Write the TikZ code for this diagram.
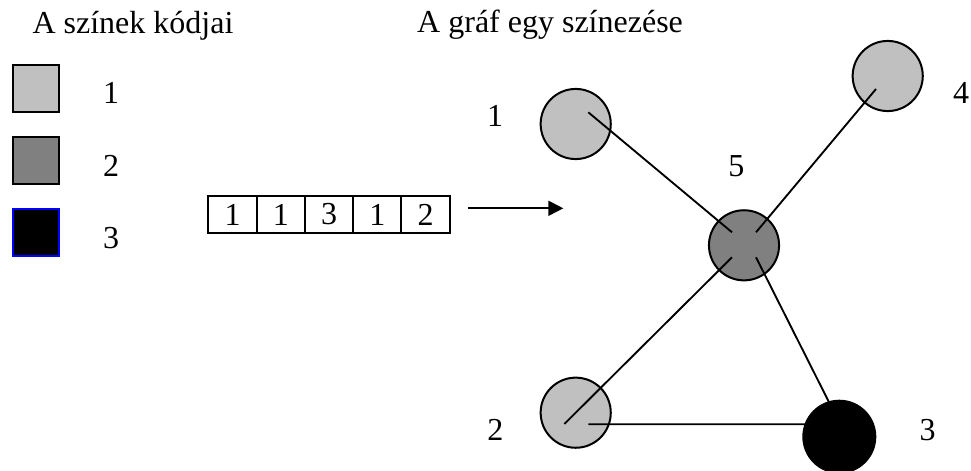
\documentclass[tikz,border=0pt]{standalone}
\usepackage{fontspec}
\setmainfont{Liberation Serif}
\usetikzlibrary{arrows.meta,positioning}
\definecolor{KodLight}{RGB}{192,192,192}
\definecolor{KodDark}{RGB}{128,128,128}
\definecolor{KodBlue}{RGB}{0,0,255}
\pgfdeclarelayer{front}
\pgfsetlayers{main,front}
\tikzset{
  kodbox/.style={rectangle, draw=black, line width=0.75pt, minimum size=17.6pt, inner sep=0pt},
  cell/.style={rectangle, draw=black, line width=0.75pt, minimum width=18.1pt,
    minimum height=13.9pt, inner sep=0pt, outer sep=0pt},
  vertex/.style={circle, draw=black, line width=0.75pt, minimum size=26.3pt, inner sep=0pt},
  edge/.style={line width=0.7pt, draw=black},
  arrow/.style={-{Triangle[length=5.6pt,width=5.6pt]}, line width=0.7pt, draw=black}
}
\begin{document}
\begin{tikzpicture}[x=0.375pt, y=-0.375pt, node distance=8.7pt,
    every node/.style={font=\fontsize{12pt}{14pt}\selectfont}]
  \useasboundingbox (0,0) rectangle (971,470);
  % titles
  \node[anchor=base west, inner sep=0pt] (tkod) at (32,34) {A színek kódjai};
  \node[anchor=base west, inner sep=0pt] (tgraf) at (416.7,33) {A gráf egy színezése};
  % colour codes
  \node[kodbox, fill=KodLight] (k1) at (36,88.3) {};
  \node[kodbox, fill=KodDark, below=of k1] (k2) {};
  \node[kodbox, fill=black, draw=KodBlue, below=of k2] (k3) {};
  \node (lk1) at (111,92.5) {1};
  \node (lk2) at (111,166) {2};
  \node (lk3) at (111,238) {3};
  % colouring array
  \node[cell] (c1) at (232.5,214.5) {1};
  \node[cell, right=0pt of c1] (c2) {1};
  \node[cell, right=0pt of c2] (c3) {3};
  \node[cell, right=0pt of c3] (c4) {1};
  \node[cell, right=0pt of c4] (c5) {2};
  \coordinate (tol) at (467.7,208.3);
  \coordinate (pfeil) at (563.3,208.3);
  \draw[arrow] (tol) -- (pfeil);
  % graph
  \node[vertex, fill=KodLight] (n1) at (575.7,124) {};
  \node[vertex, fill=KodLight] (n2) at (575.7,412.7) {};
  \node[vertex, fill=KodLight] (n4) at (887.7,76) {};
  \node[vertex, fill=KodDark] (n5) at (744,245.3) {};
  \begin{pgfonlayer}{front}
    \node[vertex, fill=black, minimum size=27pt] (n3) at (839.3,436.7) {};
  \end{pgfonlayer}
  \draw[edge] ([shift={(12.6,-11.7)}]n1.center) -- ([shift={(-12,-13)}]n5.center);
  \draw[edge] ([shift={(12,-13)}]n5.center) -- ([shift={(-11.7,13)}]n4.center);
  \draw[edge] ([shift={(-12,12)}]n5.center) -- ([shift={(-11.4,11.3)}]n2.center);
  \draw[edge] ([shift={(12,12)}]n5.center) -- ([shift={(-2,-18)}]n3.center);
  \draw[edge] ([shift={(12.6,11.6)}]n2.center) -- ([shift={(0,-12.4)}]n3.center);
  \node (l1) at (495,116) {1};
  \node (l2) at (495.3,430) {2};
  \node (l3) at (927.7,430) {3};
  \node (l4) at (961,92.7) {4};
  \node (l5) at (736.3,166.3) {5};
\end{tikzpicture}
\end{document}
